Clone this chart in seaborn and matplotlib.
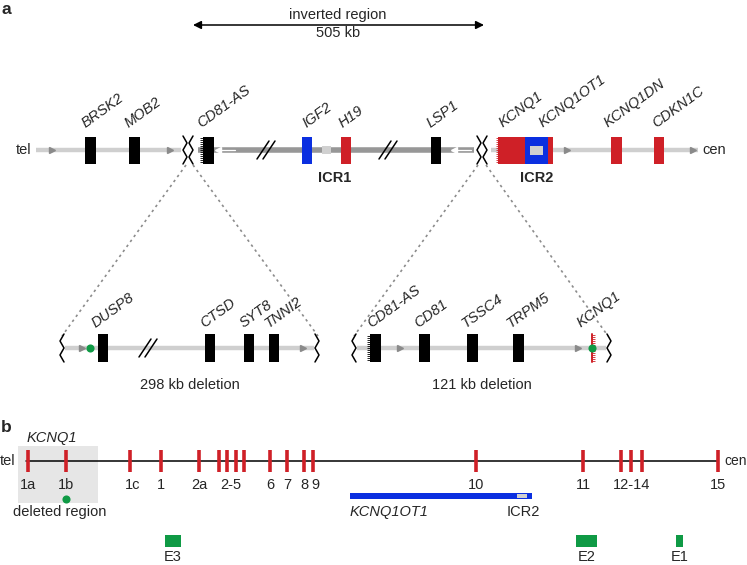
import numpy as np
import pandas as pd
import matplotlib
matplotlib.use("Agg")
import matplotlib.pyplot as plt
from matplotlib.patches import Rectangle
import seaborn as sns

# --- Diagram data (x in diagram units, left -> right = tel -> cen) ---

# panel a, top locus
TOP_BOX_START = [85, 129, 203, 302, 341, 431, 498, 525, 611, 654]
TOP_BOX_END = [96, 140, 214, 312, 351, 441, 553, 548, 622, 664]
TOP_BOX_COLOR = ["k", "k", "k", "blue", "red", "k", "red", "blue", "red", "red"]
TOP_LABELS = ["BRSK2", "MOB2", "CD81-AS", "IGF2", "H19", "LSP1",
              "KCNQ1", "KCNQ1OT1", "KCNQ1DN", "CDKN1C"]
TOP_LABEL_X = [86, 129, 201, 306, 343, 431, 503, 543, 608, 656]
TOP_SEGMENTS = [(36, 181, "light"), (198, 474, "dark"), (491, 698, "light")]
ICR_LABELS = ["ICR1", "ICR2"]
ICR_X = [335, 537]

# panel a, the two deletions
DEL_NAMES = ["298 kb deletion", "121 kb deletion"]
DEL_SPAN = [(62, 317), (354, 609)]
DEL1_GENES = ["DUSP8", "CTSD", "SYT8", "TNNI2"]
DEL1_X = [98, 205, 244, 269]
DEL1_LABEL_X = [96, 204, 244, 269]
DEL2_GENES = ["CD81-AS", "CD81", "TSSC4", "TRPM5", "KCNQ1"]
DEL2_X = [370, 419, 467, 513]
DEL2_LABEL_X = [371, 418, 466, 511, 581]
DEL2_KCNQ1_X = 592

# panel b, KCNQ1 exons
EXON_X = [28, 66, 130, 161, 199, 219, 227, 236, 244, 270, 287, 304, 313,
          476, 583, 621, 631, 642, 718]
EXON_LABELS = ["1a", "1b", "1c", "1", "2a", "2-5", "6", "7", "8", "9",
               "10", "11", "12-14", "15"]
EXON_LABEL_X = [28, 66, 133, 161, 199, 231, 270, 287, 304, 315,
                476, 583, 632, 718]
ENH_NAMES = ["E3", "E2", "E1"]
ENH_START = [165, 576, 676]
ENH_END = [181, 597, 683]
OT1_START, OT1_END = 350, 532

RED = "#cf2027"
BLUE = "#0b2fe0"
GREEN = "#0f9a45"
LIGHT = "#cfcfcf"
DARK = "#979797"
COLORS = {"k": "black", "red": RED, "blue": BLUE}

sns.set_theme(style="white")
plt.rcParams["font.family"] = ["Liberation Sans", "DejaVu Sans"]

fig = plt.figure(figsize=(7.47, 5.65), dpi=100)
ax = fig.add_axes([0, 0, 1, 1])

FS = 10.5


def box(x0, x1, yc, h, color, z=3):
    ax.add_patch(Rectangle((x0, yc - h / 2), x1 - x0, h, color=color, lw=0, zorder=z))


def fringe(x, yc, h, color, length=3.5):
    ys = np.arange(yc - h / 2 + 1, yc + h / 2, 2.0)
    ax.hlines(ys, x - length, x, color=color, lw=0.6, zorder=4)


def zigzag(xc, yc, h, flip=1, amp=4):
    ys = np.linspace(yc - h / 2, yc + h / 2, 5)
    xs = xc + flip * amp * np.array([0, 1, 0, 1, 0]) - flip * amp / 2
    ax.plot(xs, ys, color="black", lw=1.1, zorder=5)


def slashes(xc, yc):
    for dx in (-3, 3):
        ax.plot([xc + dx - 6, xc + dx + 6], [yc + 9, yc - 9], color="black", lw=1.1, zorder=5)


def dir_arrow(x, y, right=True, color="#8a8a8a"):
    ax.plot(x, y, marker=">" if right else "<", ms=4, color=color, mec=color, zorder=3)


# ---- panel a ----
ax.text(1, 10, "a", fontsize=12.5, fontweight="bold", va="center")
ax.annotate("", xy=(193, 25), xytext=(484, 25),
            arrowprops=dict(arrowstyle="<|-|>", color="black", lw=1.1,
                            mutation_scale=12, shrinkA=0, shrinkB=0))
ax.text(338, 15, "inverted region", fontsize=FS, ha="center", va="center")
ax.text(338, 33, "505 kb", fontsize=FS, ha="center", va="center")

YT = 150
ax.text(31, YT, "tel", fontsize=FS, ha="right", va="center")
ax.text(702, YT, "cen", fontsize=FS, ha="left", va="center")
for x0, x1, kind in TOP_SEGMENTS:
    ax.plot([x0, x1], [YT, YT], color=LIGHT if kind == "light" else DARK,
            lw=3.2 if kind == "light" else 4.0, solid_capstyle="butt", zorder=1)
for x in (52, 170, 567, 693):
    dir_arrow(x, YT, True)
for x in (226, 462):
    ax.plot([x - 7, x + 9], [YT, YT], color="white", lw=0.9, zorder=2)
    ax.plot(x - 8, YT, marker="<", ms=4.5, color="white", mec="white", zorder=2)

for x0, x1, c in zip(TOP_BOX_START, TOP_BOX_END, TOP_BOX_COLOR):
    box(x0, x1, YT, 27, COLORS[c])
# ICR squares
box(322, 331, YT, 8, "#d0d0d0", z=2)
box(530, 543, YT, 9, "#d0d0d0", z=4)
box(525, 548, YT, 22, BLUE, z=3.5)
fringe(203, YT, 26, "black")
fringe(499, YT, 26, RED)
for x, name in zip(TOP_LABEL_X, TOP_LABELS):
    ax.text(x, 128, name, fontsize=FS, style="italic", rotation=36,
            rotation_mode="anchor", ha="left", va="baseline")
for x, name in zip(ICR_X, ICR_LABELS):
    ax.text(x, 178, name, fontsize=FS, fontweight="bold", ha="center", va="center")

# breaks and slashes on top line
for xb in (188, 482):
    zigzag(xb - 3, YT, 28, flip=1)
    zigzag(xb + 3, YT, 28, flip=-1)
for xs in (266, 388):
    slashes(xs, YT)

# dashed zoom lines
for (xt, xb) in [(186, 62), (193, 318), (478, 354), (486, 608)]:
    ax.plot([xt, xb], [165, 336], color="#8c8c8c", lw=1.2, ls=(0, (1.5, 2.2)), zorder=0)

# deletion sub-diagrams
YD = 348
for (x0, x1), name in zip(DEL_SPAN, DEL_NAMES):
    ax.plot([x0 + 3, x1 - 3], [YD, YD], color=LIGHT, lw=3.2, solid_capstyle="butt", zorder=1)
    zigzag(x0, YD, 28, flip=-1)
    zigzag(x1, YD, 28, flip=1)
    ax.text((x0 + x1) / 2, 385, name, fontsize=FS, ha="center", va="center")
for x in (82, 303, 400, 578):
    dir_arrow(x, YD, True)
for x in DEL1_X:
    box(x, x + 10, YD, 28, "black")
for x in DEL2_X:
    box(x, x + 11, YD, 28, "black")
fringe(370, YD, 27, "black")
slashes(148, YD)
ax.plot([DEL2_KCNQ1_X, DEL2_KCNQ1_X], [YD - 14, YD + 14], color=RED, lw=1.4, zorder=4)
ax.hlines(np.arange(YD - 13, YD + 14, 2.0), DEL2_KCNQ1_X, DEL2_KCNQ1_X + 3,
          color=RED, lw=0.6, zorder=4)
for x, name in zip(DEL1_LABEL_X + DEL2_LABEL_X, DEL1_GENES + DEL2_GENES):
    ax.text(x, 328, name, fontsize=FS, style="italic", rotation=36,
            rotation_mode="anchor", ha="left", va="baseline")

# ---- panel b ----
ax.text(1, 428, "b", fontsize=12.5, fontweight="bold", va="center")
ax.text(27, 438, "KCNQ1", fontsize=FS, style="italic", ha="left", va="center")
ax.add_patch(Rectangle((18, 446), 80, 57, color="#e6e6e6", lw=0, zorder=0))
YB = 461
ax.text(15, YB, "tel", fontsize=FS, ha="right", va="center")
ax.text(724, YB, "cen", fontsize=10, ha="left", va="center")
ax.plot([26, 718], [YB, YB], color="black", lw=1.1, zorder=1)
ax.vlines(EXON_X, YB - 11, YB + 11, color=RED, lw=2.6, zorder=2)
for x, lab in zip(EXON_LABEL_X, EXON_LABELS):
    ax.text(x, 485, lab, fontsize=FS, ha="center", va="center")
ax.text(60, 512, "deleted region", fontsize=FS, ha="center", va="center")

box(OT1_START, OT1_END, 496, 6, BLUE)
box(517, 527, 496, 3.5, "#d0d0d0", z=4)
ax.text(OT1_START, 512, "KCNQ1OT1", fontsize=FS, style="italic", ha="left", va="center")
ax.text(523, 512, "ICR2", fontsize=FS, ha="center", va="center")

for x0, x1, name in zip(ENH_START, ENH_END, ENH_NAMES):
    box(x0, x1, 541, 12, GREEN)
    ax.text((x0 + x1) / 2, 557, name, fontsize=FS, ha="center", va="center")

# deletion breakpoints (green marks)
marks = pd.DataFrame({"x": [90, DEL2_KCNQ1_X, 66], "y": [YD, YD, 499]})
sns.scatterplot(data=marks, x="x", y="y", ax=ax, color=GREEN, marker="o",
                s=34, linewidth=0, zorder=6, legend=False)
ax.set_xlim(0, 747)
ax.set_ylim(565, 0)
ax.axis("off")

fig.savefig("out.png", dpi=100)
